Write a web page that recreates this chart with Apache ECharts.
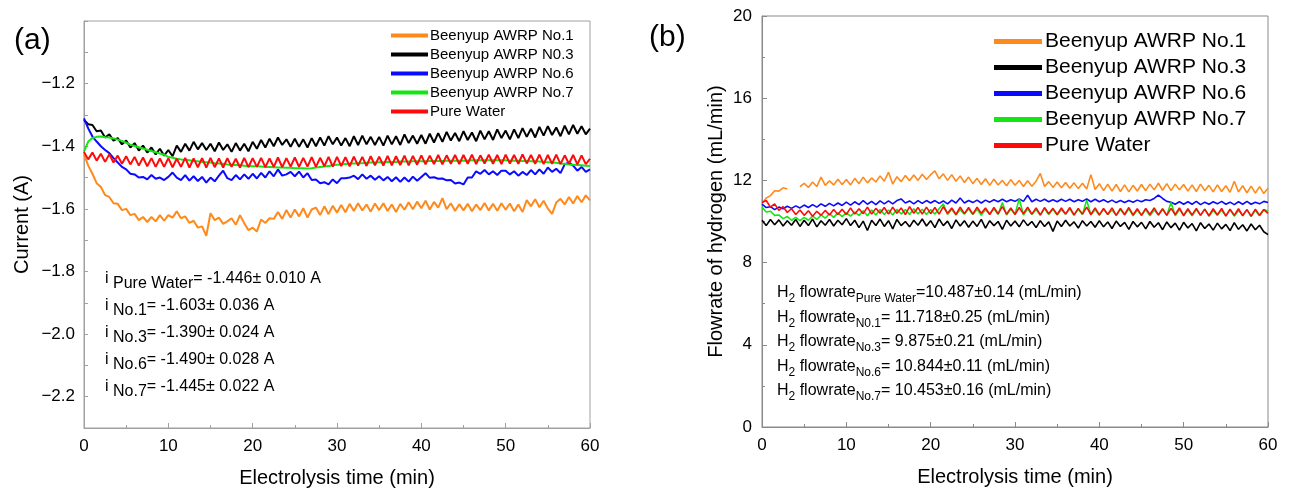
<!DOCTYPE html>
<html><head><meta charset="utf-8">
<script src="https://cdn.jsdelivr.net/npm/echarts@6/dist/echarts.min.js"></script>
<style>html,body{margin:0;padding:0;background:#fff}#c{width:1291px;height:493px}</style>
</head><body><div id="c"></div>
<script>
// ---------- DATA ----------
const timeStepMin = 0.5;

// (a) Current (A)
const currentNo1 = [
-1.425,-1.462,-1.488,-1.518,-1.530,-1.556,-1.562,-1.582,-1.584,-1.604,
-1.600,-1.620,-1.616,-1.636,-1.626,-1.642,-1.626,-1.640,-1.620,-1.638,
-1.620,-1.628,-1.608,-1.630,-1.624,-1.645,-1.638,-1.660,-1.656,-1.686,
-1.614,-1.636,-1.628,-1.648,-1.640,-1.630,-1.651,-1.620,-1.646,-1.668,
-1.660,-1.672,-1.634,-1.645,-1.630,-1.632,-1.610,-1.632,-1.604,-1.628,
-1.602,-1.624,-1.598,-1.628,-1.602,-1.596,-1.620,-1.592,-1.617,-1.590,
-1.612,-1.588,-1.611,-1.584,-1.607,-1.582,-1.605,-1.586,-1.609,-1.583,
-1.604,-1.582,-1.607,-1.586,-1.610,-1.584,-1.603,-1.579,-1.601,-1.577,
-1.598,-1.574,-1.602,-1.578,-1.596,-1.566,-1.601,-1.582,-1.607,-1.585,
-1.605,-1.584,-1.608,-1.586,-1.604,-1.581,-1.605,-1.584,-1.606,-1.582,
-1.603,-1.583,-1.608,-1.586,-1.610,-1.572,-1.592,-1.569,-1.595,-1.574,
-1.599,-1.616,-1.580,-1.568,-1.586,-1.562,-1.583,-1.559,-1.579,-1.557,
-1.573];
const currentNo3 = [
-1.316,-1.330,-1.332,-1.352,-1.350,-1.372,-1.362,-1.382,-1.374,-1.394,
-1.382,-1.404,-1.390,-1.414,-1.398,-1.420,-1.404,-1.426,-1.408,-1.430,
-1.412,-1.432,-1.398,-1.418,-1.392,-1.414,-1.386,-1.410,-1.390,-1.412,
-1.392,-1.416,-1.388,-1.412,-1.394,-1.418,-1.390,-1.414,-1.392,-1.416,
-1.386,-1.408,-1.380,-1.404,-1.376,-1.400,-1.372,-1.396,-1.378,-1.402,
-1.376,-1.402,-1.378,-1.404,-1.374,-1.400,-1.372,-1.398,-1.368,-1.394,
-1.372,-1.398,-1.374,-1.400,-1.368,-1.396,-1.366,-1.394,-1.370,-1.396,
-1.370,-1.398,-1.366,-1.394,-1.368,-1.396,-1.362,-1.390,-1.366,-1.392,
-1.364,-1.392,-1.360,-1.388,-1.358,-1.386,-1.354,-1.382,-1.358,-1.384,
-1.352,-1.380,-1.356,-1.384,-1.350,-1.378,-1.352,-1.380,-1.346,-1.374,
-1.350,-1.378,-1.346,-1.374,-1.342,-1.370,-1.344,-1.372,-1.338,-1.366,
-1.336,-1.364,-1.340,-1.368,-1.334,-1.362,-1.332,-1.360,-1.336,-1.362,
-1.344];
const currentNo6 = [
-1.311,-1.343,-1.369,-1.385,-1.400,-1.412,-1.422,-1.438,-1.452,-1.466,
-1.474,-1.488,-1.490,-1.500,-1.498,-1.506,-1.492,-1.504,-1.500,-1.508,
-1.498,-1.484,-1.500,-1.508,-1.492,-1.510,-1.496,-1.511,-1.498,-1.516,
-1.500,-1.512,-1.494,-1.478,-1.502,-1.508,-1.492,-1.506,-1.490,-1.504,
-1.488,-1.503,-1.485,-1.500,-1.480,-1.496,-1.474,-1.494,-1.490,-1.482,
-1.496,-1.481,-1.500,-1.486,-1.508,-1.506,-1.518,-1.515,-1.522,-1.506,
-1.518,-1.502,-1.502,-1.500,-1.494,-1.505,-1.490,-1.504,-1.494,-1.507,
-1.496,-1.509,-1.498,-1.512,-1.499,-1.514,-1.500,-1.513,-1.497,-1.510,
-1.498,-1.486,-1.501,-1.499,-1.504,-1.503,-1.509,-1.508,-1.519,-1.516,
-1.522,-1.500,-1.500,-1.480,-1.488,-1.476,-1.490,-1.480,-1.492,-1.478,
-1.478,-1.490,-1.480,-1.494,-1.482,-1.492,-1.476,-1.490,-1.474,-1.488,
-1.468,-1.482,-1.472,-1.486,-1.458,-1.452,-1.462,-1.478,-1.466,-1.482,
-1.474];
const currentNo7 = [
-1.417,-1.385,-1.374,-1.370,-1.369,-1.371,-1.372,-1.375,-1.379,-1.383,
-1.389,-1.395,-1.399,-1.403,-1.407,-1.411,-1.415,-1.419,-1.423,-1.427,
-1.434,-1.437,-1.440,-1.442,-1.443,-1.445,-1.447,-1.448,-1.450,-1.451,
-1.452,-1.454,-1.455,-1.456,-1.458,-1.459,-1.460,-1.461,-1.462,-1.463,
-1.464,-1.464,-1.465,-1.466,-1.466,-1.467,-1.468,-1.468,-1.469,-1.469,
-1.470,-1.470,-1.470,-1.471,-1.470,-1.468,-1.466,-1.465,-1.463,-1.461,
-1.459,-1.458,-1.457,-1.456,-1.455,-1.454,-1.454,-1.453,-1.452,-1.452,
-1.451,-1.451,-1.450,-1.450,-1.450,-1.449,-1.449,-1.449,-1.448,-1.448,
-1.448,-1.448,-1.447,-1.447,-1.447,-1.447,-1.446,-1.446,-1.446,-1.446,
-1.446,-1.446,-1.445,-1.445,-1.445,-1.445,-1.445,-1.445,-1.445,-1.445,
-1.445,-1.446,-1.446,-1.446,-1.447,-1.447,-1.448,-1.448,-1.449,-1.450,
-1.451,-1.452,-1.453,-1.455,-1.456,-1.458,-1.459,-1.460,-1.461,-1.462,
-1.463];
const currentPure = [
-1.418,-1.442,-1.420,-1.446,-1.424,-1.450,-1.426,-1.452,-1.430,-1.456,
-1.432,-1.458,-1.434,-1.462,-1.436,-1.464,-1.438,-1.466,-1.439,-1.466,
-1.438,-1.467,-1.440,-1.466,-1.437,-1.468,-1.439,-1.467,-1.438,-1.468,
-1.437,-1.467,-1.439,-1.468,-1.438,-1.466,-1.440,-1.468,-1.437,-1.467,
-1.438,-1.466,-1.437,-1.467,-1.439,-1.466,-1.436,-1.467,-1.438,-1.465,
-1.436,-1.466,-1.437,-1.465,-1.435,-1.466,-1.437,-1.464,-1.434,-1.465,
-1.434,-1.463,-1.435,-1.464,-1.433,-1.462,-1.434,-1.463,-1.432,-1.461,
-1.433,-1.462,-1.431,-1.461,-1.432,-1.460,-1.430,-1.461,-1.431,-1.459,
-1.429,-1.458,-1.430,-1.457,-1.428,-1.458,-1.429,-1.456,-1.428,-1.457,
-1.428,-1.456,-1.427,-1.457,-1.429,-1.455,-1.427,-1.456,-1.428,-1.457,
-1.427,-1.455,-1.428,-1.456,-1.426,-1.455,-1.428,-1.456,-1.427,-1.457,
-1.428,-1.456,-1.427,-1.457,-1.429,-1.456,-1.428,-1.458,-1.429,-1.457,
-1.440];

// (b) Flowrate of hydrogen (mL/min)
const flowNo1 = [
10.88,11.14,11.26,11.50,11.48,11.64,11.58,null,null,11.70,
11.86,11.66,11.92,11.70,12.16,11.76,11.98,11.78,12.06,11.80,
12.04,11.78,12.10,11.84,12.16,11.88,12.12,11.92,12.22,11.96,
12.40,11.82,12.18,11.94,12.24,11.98,12.26,12.00,12.30,12.04,
12.28,12.46,12.08,12.32,12.00,12.28,11.96,12.22,11.90,12.16,
11.84,12.10,11.80,12.08,11.76,12.06,11.78,12.00,11.74,12.04,
11.76,12.00,11.70,11.98,11.72,11.96,12.34,11.70,11.94,11.66,
11.92,11.64,11.90,11.62,11.88,11.60,11.86,11.58,12.28,11.56,
11.84,11.50,11.82,11.48,11.80,11.46,11.78,11.44,11.76,11.48,
11.80,11.50,11.82,11.54,11.86,11.52,11.84,11.50,11.82,11.54,
11.80,11.48,11.78,11.46,11.82,11.50,11.76,11.44,11.78,11.46,
11.74,11.42,11.96,11.44,11.74,11.40,11.72,11.38,11.70,11.36,
11.62];
const flowNo3 = [
10.06,9.80,10.10,9.84,10.08,9.78,10.04,9.82,10.10,9.76,
10.06,9.80,10.12,9.74,10.04,9.82,10.10,9.78,10.06,9.84,
10.14,9.80,10.06,9.70,10.02,9.56,10.06,9.80,10.12,9.76,
10.04,9.64,10.10,9.80,10.00,9.74,10.06,9.82,10.12,9.78,
10.04,9.70,10.12,9.80,10.02,9.66,10.08,9.78,10.04,9.72,
10.02,9.76,10.10,9.68,10.04,9.80,10.00,9.62,10.06,9.78,
10.02,9.74,10.08,9.80,10.00,9.70,10.04,9.76,9.98,9.52,
10.02,9.76,10.06,9.78,9.98,9.68,10.04,9.78,10.00,9.72,
10.04,9.74,9.98,9.66,10.02,9.76,9.96,9.62,10.00,9.74,
9.96,9.64,10.00,9.72,9.94,9.60,9.98,9.70,9.92,9.58,
9.96,9.68,9.90,9.54,9.94,9.66,9.88,9.58,9.92,9.64,
9.86,9.56,9.94,9.62,9.84,9.54,9.88,9.60,9.82,9.50,
9.36];
const flowNo6 = [
10.84,10.68,10.72,10.58,10.70,10.62,10.74,10.64,10.76,10.66,
10.80,10.68,10.82,10.70,10.86,10.74,10.88,10.76,10.90,10.78,
10.94,10.80,10.96,10.82,11.02,10.84,10.98,10.82,11.00,10.86,
11.00,10.86,11.02,11.10,10.90,11.00,10.86,11.02,10.88,11.02,
10.90,11.02,10.88,11.00,10.86,11.04,10.90,11.14,10.90,11.02,
10.92,11.04,10.90,11.04,10.94,11.06,10.96,11.08,10.96,11.06,
10.98,11.10,10.98,11.28,10.96,11.08,10.98,11.08,10.96,11.06,
10.96,11.08,10.98,11.08,10.96,11.06,10.98,11.10,10.96,11.08,
10.96,11.06,10.94,11.04,10.92,11.02,10.92,11.02,10.94,11.04,
10.96,11.06,11.02,11.12,11.28,11.12,10.98,10.94,10.84,10.96,
10.84,10.96,10.84,10.98,10.82,10.94,10.84,10.96,10.86,10.98,
10.84,10.94,10.82,10.96,10.84,10.98,10.84,10.94,10.86,10.98,
10.92];
const flowNo7 = [
10.70,10.46,10.50,10.30,10.32,10.14,10.24,10.06,10.20,10.04,
10.20,10.06,10.26,10.10,10.32,10.16,10.38,10.20,10.42,10.24,
10.42,10.26,10.46,10.30,10.52,10.28,10.56,10.32,10.58,10.34,
10.56,10.32,10.60,10.36,10.58,10.34,10.62,10.36,10.60,10.34,
10.58,10.36,10.62,10.86,10.34,10.60,10.32,10.58,10.36,10.62,
10.34,10.60,10.30,10.58,10.36,10.62,10.34,10.92,10.32,10.60,
10.36,11.10,10.32,10.62,10.34,10.58,10.30,10.64,10.34,10.60,
10.32,10.58,10.36,10.62,10.30,10.60,10.34,11.04,10.32,10.58,
10.30,10.60,10.34,10.56,10.30,10.58,10.32,10.62,10.28,10.56,
10.30,10.58,10.28,10.56,10.32,10.60,10.30,10.92,10.28,10.58,
10.32,10.56,10.28,10.58,10.30,10.60,10.26,10.54,10.30,10.56,
10.28,10.58,10.26,10.54,10.30,10.58,10.24,10.54,10.28,10.58,
10.50];
const flowPure = [
10.92,11.02,10.70,10.86,10.54,10.72,10.44,10.62,10.34,10.56,
10.30,10.52,10.26,10.50,10.30,10.54,10.32,10.58,10.34,10.60,
10.34,10.66,10.36,10.62,10.38,10.70,10.36,10.64,10.40,10.68,
10.36,10.70,10.40,10.66,10.34,10.72,10.40,10.68,10.36,10.70,
10.38,10.68,10.36,10.72,10.40,10.66,10.34,10.70,10.38,10.68,
10.36,10.70,10.40,10.66,10.34,10.68,10.38,10.72,10.36,10.66,
10.34,10.68,10.38,10.70,10.36,10.66,10.32,10.68,10.38,10.64,
10.34,10.66,10.36,10.68,10.32,10.64,10.36,10.70,10.34,10.66,
10.32,10.64,10.34,10.66,10.30,10.64,10.34,10.68,10.32,10.62,
10.30,10.64,10.34,10.66,10.32,10.62,10.30,10.64,10.34,10.66,
10.28,10.62,10.32,10.64,10.30,10.60,10.28,10.62,10.32,10.64,
10.26,10.60,10.30,10.62,10.28,10.58,10.26,10.60,10.30,10.58,
10.40];

const legendNamesA = ['Beenyup AWRP No.1','Beenyup AWRP N0.3','Beenyup AWRP No.6','Beenyup AWRP No.7','Pure Water'];
const legendNamesB = ['Beenyup AWRP No.1','Beenyup AWRP No.3','Beenyup AWRP No.6','Beenyup AWRP No.7','Pure Water'];
const seriesColors = ['#ff8a1c','#000000','#0a0aff','#14e614','#ff0a0a'];

const currentSubs = ['Pure Water','No.1','No.3','No.6','No.7'];
const currentVals = ['= -1.446\u00b1 0.010 A','= -1.603\u00b1 0.036 A','= -1.390\u00b1 0.024 A','= -1.490\u00b1 0.028 A','= -1.445\u00b1 0.022 A'];
const flowSubs = ['Pure Water','N0.1','No.3','No.6','No.7'];
const flowVals = ['=10.487\u00b10.14 (mL/min)','= 11.718\u00b10.25 (mL/min)','= 9.875\u00b10.21 (mL/min)','= 10.844\u00b10.11 (mL/min)','= 10.453\u00b10.16 (mL/min)'];

// ---------- CHART ----------
const FONT = '"Liberation Sans", Arial, sans-serif';
const AX_A = '#a0a0a0';
const AX_B = '#8a8a8a';
const toPairs = arr => arr.map((v, i) => [i * timeStepMin, v]);

const seriesA = [currentNo1, currentNo3, currentNo6, currentNo7, currentPure];
const seriesB = [flowNo1, flowNo3, flowNo6, flowNo7, flowPure];

function mkSeries(arrs, names, idx, width) {
  return arrs.map((a, k) => ({
    type: 'line', name: names[k], xAxisIndex: idx, yAxisIndex: idx,
    data: toPairs(a), showSymbol: false, symbol: 'none', connectNulls: false,
    lineStyle: { width: width, color: seriesColors[k] }, itemStyle: { color: seriesColors[k] },
    silent: true, z: 2 + k
  }));
}

function xAxis(idx, col) {
  return {
    gridIndex: idx, type: 'value', min: 0, max: 60, interval: 10,
    axisLine: { onZero: false, lineStyle: { color: col, width: 1 } },
    axisTick: { inside: true, length: 5, lineStyle: { color: col } },
    minorTick: { show: true, splitNumber: 2, length: 3, lineStyle: { color: col } },
    splitLine: { show: false }, minorSplitLine: { show: false },
    axisLabel: { color: '#000', fontSize: 17, margin: 10, fontFamily: FONT },
    name: 'Electrolysis time (min)', nameLocation: 'middle', nameGap: 40,
    nameTextStyle: { fontSize: 20, color: '#000', fontFamily: FONT }
  };
}

const mainRichA = {
  m: { fontSize: 16, lineHeight: 16, verticalAlign: 'top', fontFamily: FONT, color: '#000' },
  s: { fontSize: 16, lineHeight: 16, padding: [5, 0, 0, 0], verticalAlign: 'top', fontFamily: FONT, color: '#000' }
};
const mainRichB = {
  m: { fontSize: 16, lineHeight: 16, verticalAlign: 'top', fontFamily: FONT, color: '#000' },
  s: { fontSize: 12, lineHeight: 12, padding: [8, 0, 0, 0], verticalAlign: 'top', fontFamily: FONT, color: '#000' }
};

const graphics = [
  { type: 'text', left: 14, top: 26, style: { text: '(a)', fontSize: 30, fontFamily: FONT, fill: '#000' } },
  { type: 'text', left: 649, top: 23, style: { text: '(b)', fontSize: 30, fontFamily: FONT, fill: '#000' } }
];
currentSubs.forEach((s, k) => {
  graphics.push({ type: 'text', left: 105, top: 271 + 27 * k,
    style: { text: '{m|i }{s|' + s + '}{m|' + currentVals[k] + '}', rich: mainRichA } });
});
flowSubs.forEach((s, k) => {
  graphics.push({ type: 'text', left: 777, top: 285 + 24.5 * k,
    style: { text: '{m|H}{s|2}{m| flowrate}{s|' + s + '}{m|' + flowVals[k] + '}', rich: mainRichB } });
});

const option = {
  animation: false,
  backgroundColor: '#fff',
  textStyle: { fontFamily: FONT },
  grid: [
    { left: 84, top: 21, width: 506, height: 409, show: true, borderColor: AX_A, borderWidth: 1 },
    { left: 762, top: 16, width: 506, height: 411, show: true, borderColor: AX_B, borderWidth: 1 }
  ],
  xAxis: [xAxis(0, AX_A), xAxis(1, AX_B)],
  yAxis: [
    {
      gridIndex: 0, type: 'value', min: -2.3, max: -1.0, interval: 0.1,
      axisLine: { show: true, onZero: false, lineStyle: { color: AX_A } },
      axisTick: { show: true, inside: true, length: 4, lineStyle: { color: AX_A } },
      splitLine: { show: false },
      axisLabel: {
        color: '#000', fontSize: 17, margin: 9, fontFamily: FONT,
        formatter: v => { const k = Math.round(v * 10); if (k % 2 !== 0 || k === -10) return ''; return '\u2212' + Math.abs(v).toFixed(1); }
      },
      name: 'Current (A)', nameLocation: 'middle', nameGap: 52,
      nameTextStyle: { fontSize: 20, color: '#000', fontFamily: FONT }
    },
    {
      gridIndex: 1, type: 'value', min: 0, max: 20, interval: 4,
      axisLine: { show: true, onZero: false, lineStyle: { color: AX_B } },
      axisTick: { show: true, inside: true, length: 5, lineStyle: { color: AX_B } },
      minorTick: { show: true, splitNumber: 2, length: 3, lineStyle: { color: AX_B } },
      splitLine: { show: false }, minorSplitLine: { show: false },
      axisLabel: { color: '#000', fontSize: 17, margin: 10, fontFamily: FONT },
      name: 'Flowrate of hydrogen (mL/min)', nameLocation: 'middle', nameGap: 36,
      nameTextStyle: { fontSize: 20, color: '#000', fontFamily: FONT }
    }
  ],
  legend: [
    { data: legendNamesA, orient: 'vertical', left: 386, top: 23, icon: 'rect', itemWidth: 37, itemHeight: 4, itemGap: 4,
      selectedMode: false, textStyle: { fontSize: 15, lineHeight: 15, color: '#000', fontFamily: FONT, padding: [0, 0, 0, -3] } },
    { data: legendNamesB, orient: 'vertical', left: 989, top: 26, icon: 'rect', itemWidth: 48, itemHeight: 5, itemGap: 5,
      selectedMode: false, textStyle: { fontSize: 21, lineHeight: 21, color: '#000', fontFamily: FONT, padding: [0, 0, 0, -2] } }
  ],
  graphic: graphics,
  series: [...mkSeries(seriesA, legendNamesA, 0, 2), ...mkSeries(seriesB, legendNamesB, 1, 1.6)]
};

const chart = echarts.init(document.getElementById('c'), null, { renderer: 'canvas' });
chart.setOption(option);
</script>
</body></html>
